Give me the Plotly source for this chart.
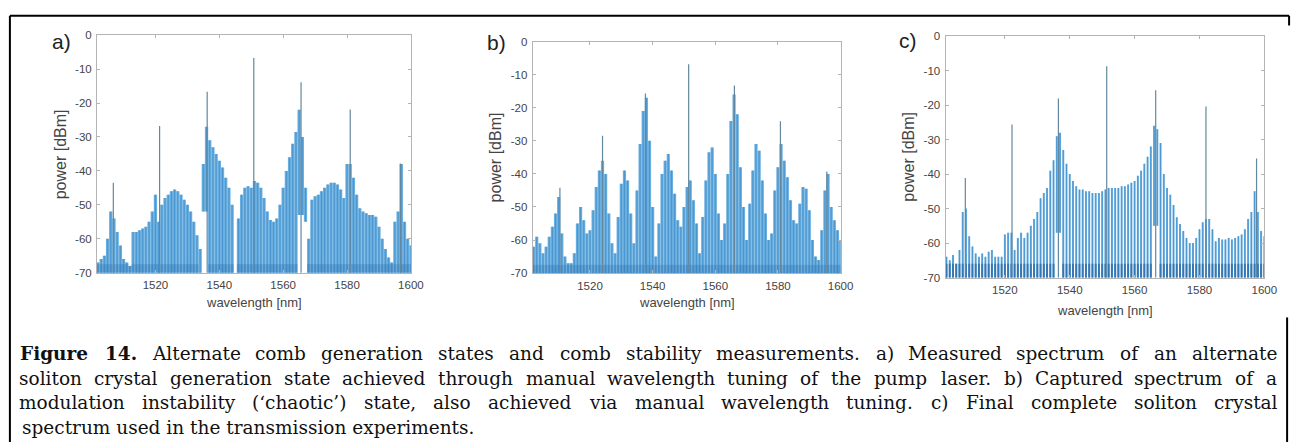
import plotly.graph_objects as go

W, H = 1311, 448

# ---------------- data ----------------
wl = [1502, 1503, 1504, 1505, 1506, 1507, 1508, 1509, 1510, 1511, 1512, 1513, 1514, 1515, 1516, 1517, 1518, 1519, 1520,
      1521, 1522, 1523, 1524, 1525, 1526, 1527, 1528, 1529, 1530, 1531, 1532, 1533, 1534, 1535, 1536, 1537, 1538, 1539,
      1540, 1541, 1542, 1543, 1544, 1545, 1546, 1547, 1548, 1549, 1550, 1551, 1552, 1553, 1554, 1555, 1556, 1557, 1558,
      1559, 1560, 1561, 1562, 1563, 1564, 1565, 1566, 1567, 1568, 1569, 1570, 1571, 1572, 1573, 1574, 1575, 1576, 1577,
      1578, 1579, 1580, 1581, 1582, 1583, 1584, 1585, 1586, 1587, 1588, 1589, 1590, 1591, 1592, 1593, 1594, 1595, 1596,
      1597, 1598, 1599, 1600]

# a) alternate soliton crystal state
pk_a = [-67, -66, -65, -60, -52, -54, -58, -62, -66, -67, -68, -58, -58, -57.5, -57, -56.5, -55, -52, -47,
        -55, -50, -48, -47, -46, -45.5, -46, -47, -48.5, -50, -52, -55, -59, -63, -38, -27, -31, -33, -35,
        -37, -39, -42, -45, -50, -71, -54, -47, -45, -44.5, -45, -43, -43.5, -45, -48, -52, -54.5, -55, -54,
        -50, -45, -40, -36, -32, -28.5, -22, -30, -45, -60, -48.5, -47.5, -47, -46, -45, -44, -43.5, -43.5, -44,
        -45.5, -48, -38, -38, -42, -47, -51, -52, -52.5, -53, -53, -53.5, -56.5, -60, -63, -65.5, -67, -55, -52,
        -38, -55, -60, -62]
raised_a_wl = [1534, 1535, 1536, 1565, 1566, 1567]
raised_a_fl = [-71, -52, -52, -53, -53, -55]
spike_a_wl = [1506.8, 1521.3, 1536.2, 1550.8, 1565.6, 1581.0, 1596.7]
spike_a_pk = [-43.5, -26.8, -16.7, -6.7, -13.9, -21.9, -37.8]

# b) modulation instability ('chaotic') state
pk_b = [-62, -59, -61, -64, -62, -59, -56, -52, -47, -58, -65, -67, -67, -64, -55, -50, -54, -58, -57,
        -51, -44, -39, -36, -40, -52, -61, -64, -53, -43, -39, -42, -52, -61, -45, -31, -21, -17, -30,
        -50, -65, -55, -40, -36, -34, -39, -46, -54, -56, -50, -44, -42, -48, -55, -64, -53, -42, -33.5,
        -32, -40, -52, -60, -55, -40, -24, -16, -22, -38, -50, -60, -49, -39, -31, -33, -42, -52, -60,
        -58, -45, -38, -31, -36, -41, -48, -54, -55, -49, -44, -44.5, -51, -60, -65, -66, -57, -45, -40,
        -50, -54, -57, -60]
raised_b_wl = []
raised_b_fl = []
spike_b_wl = [1510.4, 1524.0, 1537.7, 1551.5, 1566.1, 1580.8, 1595.6]
spike_b_pk = [-44.2, -28.5, -15.7, -6.9, -13.3, -24.1, -39.3]

# c) final complete soliton crystal state
pk_c = [-64, -65, -63.5, -66, -62, -51, -50, -58, -61, -63, -64, -63, -64, -62.5, -62, -64, -64, -64, -57.5,
        -57, -57, -62, -58.5, -57, -58.5, -57, -55, -53, -51, -47, -45.5, -44, -39, -36, -29, -28, -33, -37,
        -40, -42, -43.5, -44.5, -44.5, -45, -45, -45.5, -45.5, -45.5, -45, -44.5, -44, -44, -44, -44, -43.5, -43.5, -43,
        -42.5, -42, -40.5, -39, -37, -35, -32, -26, -27, -31, -40, -44, -46, -49, -52.5, -54.5, -56.5, -58.5, -60,
        -60, -58.5, -56, -54, -53, -53, -56, -59.5, -58.5, -59, -59, -58.5, -59, -58.5, -58, -57.5, -56, -53, -51,
        -45, -51, -56.5, -58]
raised_c_wl = [1536, 1537, 1566, 1567]
raised_c_fl = [-57, -57, -55, -55]
spike_c_wl = [1507.8, 1522.2, 1536.5, 1551.4, 1566.5, 1582.0, 1597.6]
spike_c_pk = [-41.1, -25.6, -18.1, -8.7, -15.7, -20.4, -35.5]

x_ticks = [1520, 1540, 1560, 1580, 1600]
y_ticks = [0, -10, -20, -30, -40, -50, -60, -70]
y_ticktext = ["0", "-10", "-20", "-30", "-40", "-50", "-60", "-70"]
panel_letters = ["a)", "b)", "c)"]

caption_lines = [
    "**Figure **14. Alternate comb generation states and comb stability measurements. a) Measured spectrum of an alternate",
    "soliton crystal generation state achieved through manual wavelength tuning of the pump laser. b) Captured spectrum of a",
    "modulation instability (‘chaotic’) state, also achieved via manual wavelength tuning. c) Final complete soliton crystal",
    "spectrum used in the transmission experiments.",
]
caption_natural_px = [1086, 1116, 1068, 440]   # natural (unjustified) widths measured at 18 px
caption_justify = [True, True, True, False]

# ---------------- helpers ----------------
CW = {' ': .318, 'a': .60, 'b': .64, 'c': .56, 'd': .64, 'e': .60, 'f': .37, 'g': .64, 'h': .65, 'i': .32,
      'j': .32, 'k': .61, 'l': .32, 'm': .97, 'n': .65, 'o': .60, 'p': .64, 'q': .64, 'r': .48, 's': .51,
      't': .40, 'u': .65, 'v': .58, 'w': .84, 'x': .58, 'y': .58, 'z': .53, 'A': .72, 'F': .67, 'M': .92,
      'C': .72, '1': .64, '4': .64, '.': .32, ',': .32, '(': .39, ')': .39, '‘': .32, '’': .32}
CAP_SIZE = 18.5


def est(word, bold):
    return sum(CW.get(ch, .6) for ch in word) * (1.12 if bold else 1.0)


fig = go.Figure()
layout_axes = {}
annotations = []

FILL = "#69afe0"
STREAK = "#3f8ac6"
DARK = "#2a6aa8"
SPIKE = "#62879f"

panels = [
    dict(pk=pk_a, rw=raised_a_wl, rf=raised_a_fl, sw=spike_a_wl, sp=spike_a_pk,
         x0=98, x1=415, y0=30, y1=274, lw=3.3, sw_w=0.9, lab=(62, 36), xt=305, yt=62, nz=0.3, ntop=-67.5),
    dict(pk=pk_b, rw=raised_b_wl, rf=raised_b_fl, sw=spike_b_wl, sp=spike_b_pk,
         x0=538, x1=849, y0=36.5, y1=274.5, lw=3.2, sw_w=0.9, lab=(501, 37), xt=305, yt=500, nz=0.3, ntop=-67.5),
    dict(pk=pk_c, rw=raised_c_wl, rf=raised_c_fl, sw=spike_c_wl, sp=spike_c_pk,
         x0=955, x1=1277, y0=31, y1=279, lw=2.0, sw_w=0.8, lab=(917, 35), xt=313, yt=918, nz=0.75, ntop=-66),
]

for i, p in enumerate(panels):
    n = "" if i == 0 else str(i + 1)
    xa, ya = "x" + n, "y" + n
    floors = dict(zip(p["rw"], p["rf"]))
    xs, ys, xn, yn = [], [], [], []
    for w, v in zip(wl, p["pk"]):
        f = floors.get(w, -71)
        xs += [w, w, None]
        ys += [f, v, None]
        if w not in floors:
            xn += [w, w, None]
            yn += [-71, min(v, p["ntop"]), None]
    fig.add_trace(go.Scatter(x=xs, y=ys, mode="lines", line=dict(color=FILL, width=p["lw"]),
                             xaxis=xa, yaxis=ya, showlegend=False, hoverinfo="skip"))
    fig.add_trace(go.Scatter(x=xs, y=ys, mode="lines", line=dict(color=STREAK, width=p["sw_w"]),
                             xaxis=xa, yaxis=ya, showlegend=False, hoverinfo="skip", opacity=0.8))
    fig.add_trace(go.Scatter(x=xn, y=yn, mode="lines", line=dict(color=DARK, width=p["lw"]),
                             xaxis=xa, yaxis=ya, showlegend=False, hoverinfo="skip", opacity=p["nz"]))
    sx, sy = [], []
    for w, v in zip(p["sw"], p["sp"]):
        sx += [w, w, None]
        sy += [-71, v, None]
    fig.add_trace(go.Scatter(x=sx, y=sy, mode="lines", line=dict(color=SPIKE, width=1.2),
                             xaxis=xa, yaxis=ya, showlegend=False, hoverinfo="skip"))

    axis_common = dict(showline=True, mirror="ticks", linecolor="#b4b4b4", linewidth=1,
                       ticks="inside", ticklen=3, tickcolor="#b4b4b4", showgrid=False, zeroline=False)
    layout_axes["xaxis" + n] = dict(axis_common, domain=[p["x0"] / W, p["x1"] / W], range=[1501.7, 1600],
                                    tickvals=x_ticks, anchor=ya, ticklabelstandoff=2,
                                    tickfont=dict(family="Liberation Sans, Arial", size=11.5, color="#444"))
    layout_axes["yaxis" + n] = dict(axis_common, domain=[1 - p["y1"] / H, 1 - p["y0"] / H], range=[-70, 0],
                                    tickvals=y_ticks, ticktext=y_ticktext, anchor=xa, ticklabelstandoff=2,
                                    tickfont=dict(family="Liberation Sans, Arial", size=11.5, color="#444"))

    cx = (p["x0"] + p["x1"]) / 2
    annotations.append(dict(text="wavelength [nm]", x=cx / W, y=1 - p["xt"] / H, xref="paper", yref="paper",
                            showarrow=False, xanchor="center", yanchor="middle",
                            font=dict(family="Liberation Sans, Arial", size=13, color="#444")))
    annotations.append(dict(text="power [dBm]", x=p["yt"] / W, y=1 - (p["y0"] + p["y1"]) / 2 / H,
                            xref="paper", yref="paper", showarrow=False, textangle=-90,
                            xanchor="center", yanchor="middle",
                            font=dict(family="Liberation Sans, Arial", size=16, color="#444")))
    annotations.append(dict(text=panel_letters[i], x=p["lab"][0] / W, y=1 - p["lab"][1] / H,
                            xref="paper", yref="paper", showarrow=False, xanchor="center", yanchor="middle",
                            font=dict(family="Liberation Sans, Arial", size=21, color="#222")))

# caption, justified word by word between x=20 and x=1290
CAP_L, CAP_R = 20, 1290
for k, line in enumerate(caption_lines):
    yk = 1 - (357 + 25.3 * k) / H
    raw = line.split(" ")
    words = []
    for t in raw:
        if t.startswith("**"):
            words.append((t[2:].split("**")[0], True))
        else:
            words.append((t, False))
    if words and words[0][1]:
        words = [("Figure", True), ("14.", True)] + words[2:]
    if not caption_justify[k]:
        txt = " ".join(w for w, b in words)
        annotations.append(dict(text=txt, x=CAP_L / W, y=yk, xref="paper", yref="paper", showarrow=False,
                                xanchor="left", yanchor="middle",
                                font=dict(family="DejaVu Serif", size=CAP_SIZE, color="#111")))
        continue
    ests = [est(w, b) for w, b in words]
    total = sum(ests) + (len(words) - 1) * CW[' ']
    scale = caption_natural_px[k] * CAP_SIZE / 18 / total
    widths = [e * scale for e in ests]
    gap = (CAP_R - CAP_L - sum(widths)) / (len(words) - 1)
    xpos = CAP_L
    for (w, b), wd in zip(words, widths):
        txt = "<b>%s</b>" % w if b else w
        annotations.append(dict(text=txt, x=(xpos + wd / 2) / W, y=yk, xref="paper", yref="paper",
                                showarrow=False, xanchor="center", yanchor="middle",
                                font=dict(family="DejaVu Serif", size=CAP_SIZE, color="#111")))
        xpos += wd + gap

shapes = [
    dict(type="line", xref="paper", yref="paper", x0=10 / W, x1=1302 / W, y0=1 - 10 / H, y1=1 - 10 / H,
         line=dict(color="black", width=2)),
    dict(type="line", xref="paper", yref="paper", x0=10 / W, x1=10 / W, y0=1 - 10 / H, y1=0,
         line=dict(color="black", width=2)),
    dict(type="line", xref="paper", yref="paper", x0=1302 / W, x1=1302 / W, y0=1 - 10 / H, y1=1 - 20 / H,
         line=dict(color="black", width=2)),
    dict(type="line", xref="paper", yref="paper", x0=1300 / W, x1=1300 / W, y0=1 - 320 / H, y1=0,
         line=dict(color="black", width=2)),
]

fig.update_layout(width=W, height=H, margin=dict(l=0, r=0, t=0, b=0), autosize=False,
                  paper_bgcolor="white", plot_bgcolor="white",
                  annotations=annotations, shapes=shapes, **layout_axes)

fig.write_html("out.html")
